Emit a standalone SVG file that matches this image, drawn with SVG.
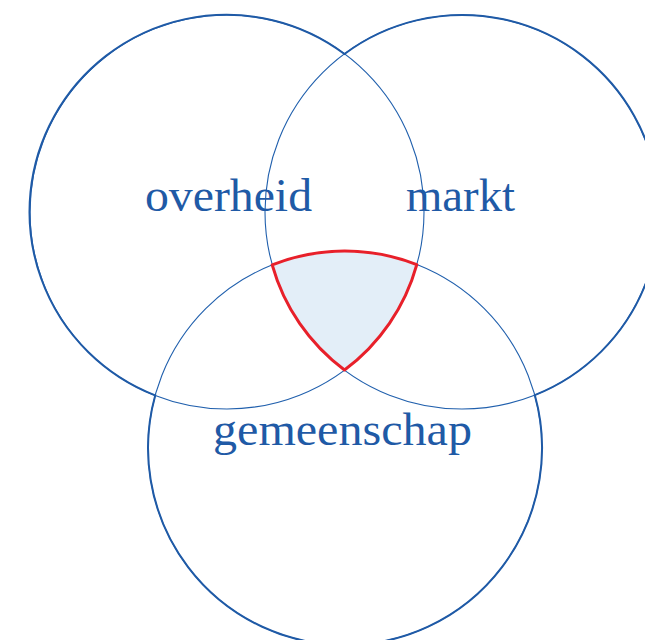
<svg xmlns="http://www.w3.org/2000/svg" width="645" height="640" viewBox="0 0 645 640">
  <style>
    .ring { fill: none; stroke: #2160ad; stroke-width: 1.1; }
    .rim { fill: none; stroke: #1f5aa6; stroke-width: 2; }
    .core { fill: #e3eef8; stroke: #e8202a; stroke-width: 3; stroke-linejoin: round; }
    .label { font-family: "Liberation Serif", "DejaVu Serif", serif; font-size: 46px; fill: #1f5aa6; }
  </style>
  <rect width="645" height="640" fill="#ffffff"/>

  <g id="overheid-ring"><circle class="ring" cx="227" cy="212" r="197"/></g>
  <g id="markt-ring"><circle class="ring" cx="462" cy="212" r="197"/></g>
  <g id="gemeenschap-ring"><circle class="ring" cx="345" cy="448" r="197"/></g>

  <!-- heavier outline along the outer edge of the union -->
  <g id="outline">
    <path class="rim" d="M 344.5 54 A 197 197 0 1 0 155.2 395.4 A 197 197 0 1 0 534.8 395.1 A 197 197 0 1 0 344.5 54 Z"/>
  </g>

  <!-- shared core: intersection of all three circles -->
  <g id="core">
    <path class="core" d="M 272.2 264.9 A 197 197 0 0 1 416.8 264.6 A 197 197 0 0 1 344.5 370 A 197 197 0 0 1 272.2 264.9 Z"/>
  </g>

  <g id="overheid">
    <text class="label" x="145" y="211" textLength="167" lengthAdjust="spacingAndGlyphs">overheid</text>
  </g>
  <g id="markt">
    <text class="label" x="406" y="211" textLength="109" lengthAdjust="spacingAndGlyphs">markt</text>
  </g>
  <g id="gemeenschap">
    <text class="label" x="213" y="445" textLength="259" lengthAdjust="spacingAndGlyphs">gemeenschap</text>
  </g>
</svg>
